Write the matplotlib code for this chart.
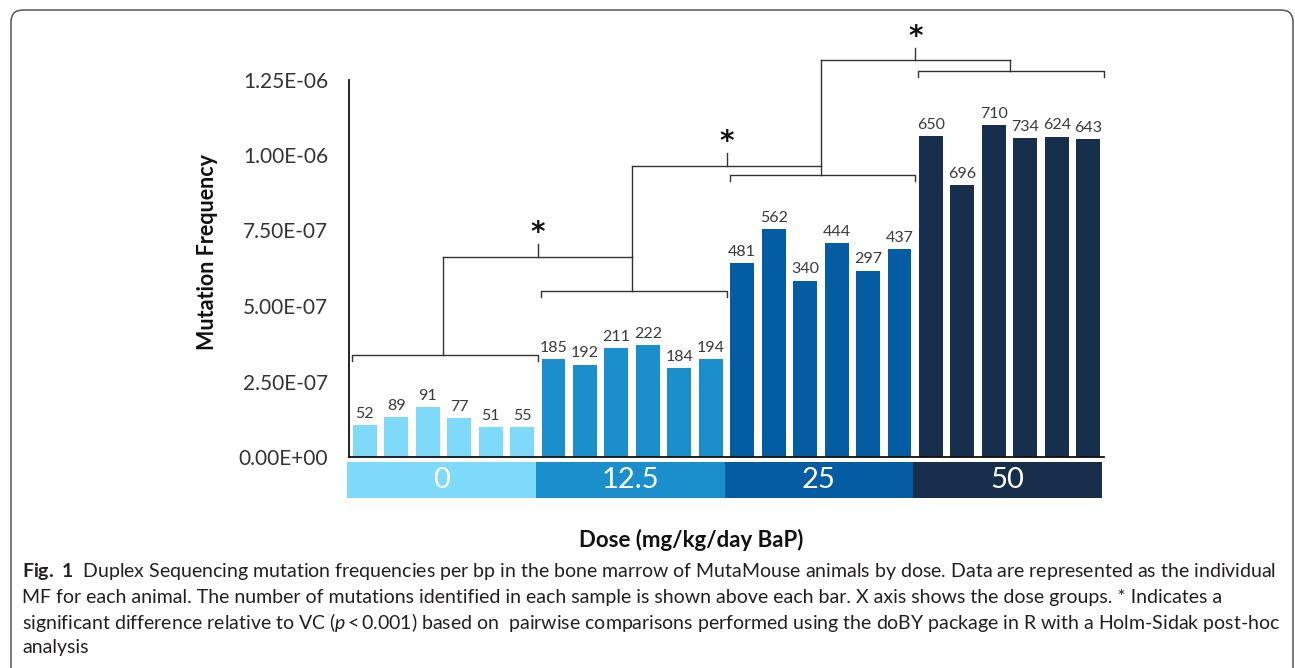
import matplotlib
matplotlib.use("Agg")
import matplotlib.pyplot as plt
from matplotlib.patches import FancyBboxPatch
from matplotlib.transforms import IdentityTransform

plt.rcParams['font.family'] = ['Lato', 'DejaVu Sans']
plt.rcParams['mathtext.fontset'] = 'custom'
plt.rcParams['mathtext.rm'] = 'Lato'
plt.rcParams['mathtext.it'] = 'Lato:italic'
plt.rcParams['mathtext.bf'] = 'Lato:bold'

# mutation frequency per animal, by dose group
doses = ["0", "12.5", "25", "50"]
mf_0 = [1.06e-7, 1.33e-7, 1.65e-7, 1.28e-7, 1.00e-7, 1.00e-7]
mf_12 = [3.23e-7, 3.06e-7, 3.60e-7, 3.70e-7, 2.94e-7, 3.23e-7]
mf_25 = [6.41e-7, 7.54e-7, 5.84e-7, 7.08e-7, 6.17e-7, 6.88e-7]
mf_50 = [1.063e-6, 9.01e-7, 1.099e-6, 1.057e-6, 1.061e-6, 1.052e-6]

# number of mutations found in each sample
n_0 = [52, 89, 91, 77, 51, 55]
n_12 = [185, 192, 211, 222, 184, 194]
n_25 = [481, 562, 340, 444, 297, 437]
n_50 = [650, 696, 710, 734, 624, 643]

yticks = [0, 2.5e-7, 5e-7, 7.5e-7, 1e-6, 1.25e-6]

colors = ["#7fd9f8", "#1b8fcc", "#045ca2", "#172f4c"]

groups_mf = [mf_0, mf_12, mf_25, mf_50]
groups_n = [n_0, n_12, n_25, n_50]

W, H = 1295, 668
fig = plt.figure(figsize=(W / 100, H / 100), dpi=100)

# rounded frame around the figure
frame = FancyBboxPatch((11, -30), 1282, H - 10 + 30,
                       boxstyle="round,pad=0,rounding_size=12",
                       transform=IdentityTransform(), fill=False,
                       edgecolor="#555555", linewidth=1.1)
fig.patches.append(frame)

ax = fig.add_axes([349 / W, (H - 457) / H, 755 / W, 377.5 / H])

n_per = len(mf_0)
for g in range(len(doses)):
    xs = [g * n_per + i for i in range(n_per)]
    bars = ax.bar(xs, groups_mf[g], width=0.76, color=colors[g])
    ax.bar_label(bars, labels=[str(v) for v in groups_n[g]], padding=3,
                 fontsize=11.5, color="#3a3a3a")

ax.set_xlim(-0.5, len(doses) * n_per - 0.5)
ax.set_ylim(0, 1.25e-6)
ax.set_xticks([])
ax.set_yticks(yticks)
ax.set_yticklabels([f"{v:.2E}" for v in yticks], fontsize=15, color="#333333")
ax.tick_params(axis="y", length=0, pad=15)
for s in ["top", "right"]:
    ax.spines[s].set_visible(False)
for s in ["left", "bottom"]:
    ax.spines[s].set_linewidth(1.3)
    ax.spines[s].set_color("#111111")

# group brackets and significance connectors
lc = "#333333"
lw = 1.0
hook = 2e-8
bracket_y = [3.38e-7, 5.51e-7, 9.34e-7, 1.279e-6]
for g, by in enumerate(bracket_y):
    x0, x1 = g * n_per - 0.4, g * n_per + n_per - 0.5
    ax.plot([x0, x0, x1, x1], [by - hook, by, by, by - hook], color=lc,
            lw=lw, clip_on=False, solid_joinstyle="round")

link_y = [6.63e-7, 9.64e-7, 1.314e-6]
tick_h = 4.1e-8
for k, ly in enumerate(link_y):
    xa = k * n_per + 2.5
    xb = (k + 1) * n_per + 2.5
    ya = bracket_y[k] if k == 0 else link_y[k - 1]
    ax.plot([xa, xa], [ya, ly], color=lc, lw=lw, clip_on=False)
    ax.plot([xa, xb], [ly, ly], color=lc, lw=lw, clip_on=False)
    ax.plot([xb, xb], [bracket_y[k + 1], ly], color=lc, lw=lw, clip_on=False)
    xm = (k + 1) * n_per - 0.5
    ax.plot([xm, xm], [ly, ly + tick_h], color=lc, lw=lw, clip_on=False)
    ax.annotate("*", xy=(xm, ly + tick_h), xytext=(0, -2),
                textcoords="offset points", ha="center", va="bottom",
                fontsize=20, fontweight="bold", family="DejaVu Sans",
                color="#111111", annotation_clip=False)

# dose band under the axis
band = fig.add_axes([347 / W, (H - 498) / H, 755 / W, 36 / H])
for g, d in enumerate(doses):
    band.bar(g * n_per + (n_per - 1) / 2, 1, width=n_per, color=colors[g])
    band.text(g * n_per + (n_per - 1) / 2, 0.5, d, ha="center", va="center",
              fontsize=21, color="white")
band.set_xlim(-0.5, len(doses) * n_per - 0.5)
band.set_ylim(0, 1)
band.axis("off")

fig.text(208 / W, (H - 252) / H, "Mutation Frequency", rotation=90,
         ha="center", va="center", fontsize=15.5, fontweight="bold",
         color="#111111")
fig.text(691 / W, (H - 540) / H, "Dose (mg/kg/day BaP)", ha="center",
         va="center", fontsize=16, fontweight="bold", color="#111111")

caption = [
    r"$\mathbf{Fig.\ 1}$  Duplex Sequencing mutation frequencies per bp in the bone marrow of MutaMouse animals by dose. Data are represented as the individual",
    "MF for each animal. The number of mutations identified in each sample is shown above each bar. X axis shows the dose groups. * Indicates a",
    r"significant difference relative to VC ($\mathit{p}$" + "\u2009<\u20090.001) based on  pairwise comparisons performed using the doBY package in R with a Holm-Sidak post-hoc",
    "analysis",
]
for i, line in enumerate(caption):
    fig.text(22 / W, (H - 572 - i * 25) / H, line, ha="left", va="center",
             fontsize=14, color="#231f20")

fig.savefig("out.png", dpi=100)
